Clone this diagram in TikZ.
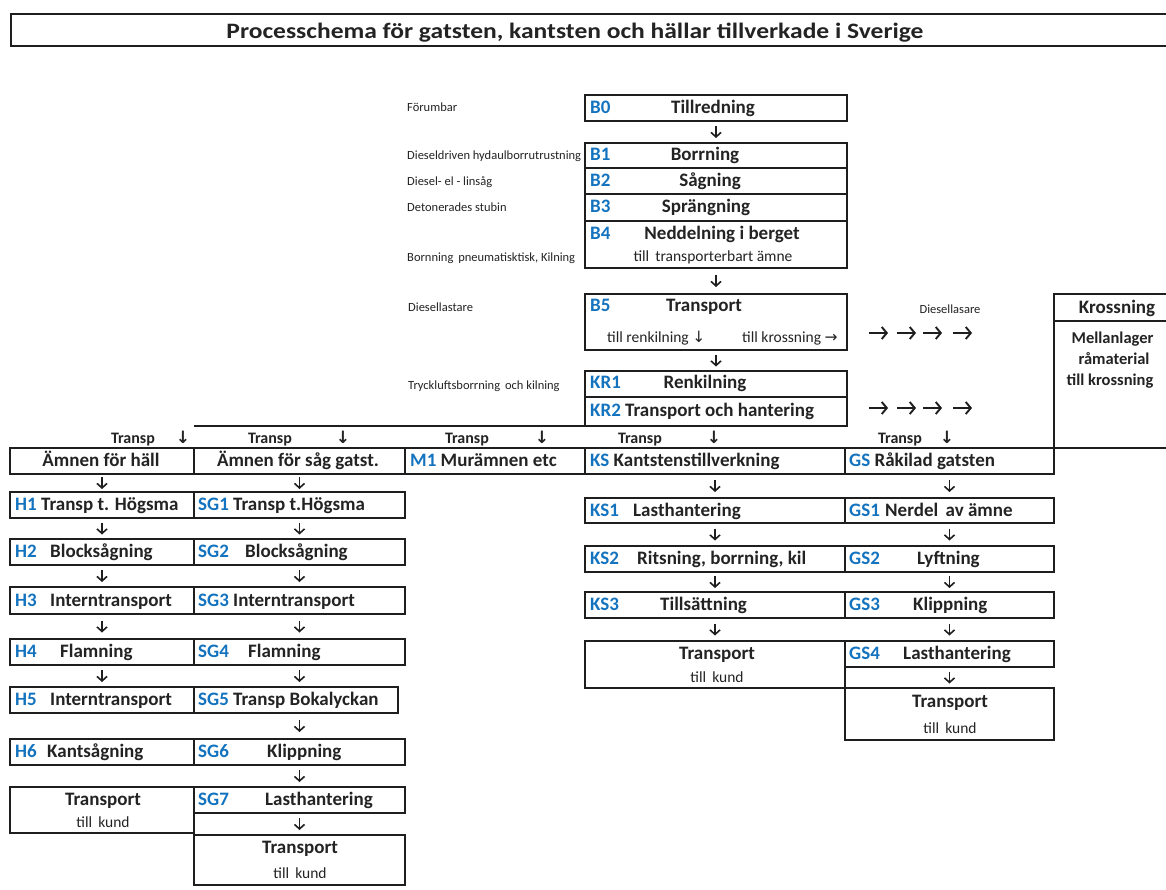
\documentclass[tikz,border=0pt]{standalone}
\usepackage{fontspec}
\setmainfont{Carlito}
\newfontfamily\arrfont{DejaVu Sans}
\usetikzlibrary{arrows.meta}
\definecolor{ln}{RGB}{30,30,30}
\definecolor{tx}{RGB}{35,35,35}
\definecolor{cblue}{RGB}{20,115,190}
\newcommand\cd[1]{\textcolor{cblue}{#1}}
\newcommand\dn{{\arrfont ↓}}
\newcommand\rt{{\arrfont →}}
\newcommand\bx[5]{%
  \pgfmathsetmacro\bw{#4-#2}\pgfmathsetmacro\bh{#5-#3}%
  \node[box,anchor=north west,minimum width=\bw pt,minimum height=\bh pt] (#1) at (#2,#3) {};}
\tikzset{
  box/.style={draw=ln, line width=2pt, outer sep=0pt, inner sep=0pt},
  big/.style={font=\fontsize{19}{22}\selectfont\bfseries, text=tx, inner sep=0pt},
  sub/.style={font=\fontsize{15.5}{18}\selectfont, text=tx, inner sep=0pt},
  sml/.style={font=\fontsize{12.5}{15}\selectfont, text=tx, inner sep=0pt},
  trp/.style={font=\fontsize{16}{19}\selectfont\bfseries, text=tx, inner sep=0pt},
  krs/.style={font=\fontsize{16.5}{19}\selectfont\bfseries, text=tx, inner sep=0pt},
  ttl/.style={font=\fontsize{22}{25}\selectfont\bfseries, text=tx, inner sep=0pt},
  dar/.style={font=\fontsize{17}{20}\selectfont\arrfont\bfseries, text=tx, inner sep=0pt},
  garr/.style={-{Straight Barb[length=5pt,width=12pt]}, line width=1.9pt, draw=ln},
  flow/.style={-{Straight Barb[length=4.5pt,width=10pt]}, line width=1.6pt, draw=ln, shorten <=#1, shorten >=#1},
  flow/.default=5pt,
  ln2/.style={draw=ln, line width=2pt}
}
\begin{document}
\begin{tikzpicture}[x=1pt,y=-1pt]
\useasboundingbox (0,0) rectangle (1166,890);
\fill[white] (0,0) rectangle (1166,890);
\clip (0,0) rectangle (1166,890);

% title
\node[draw=ln, line width=1.6pt, outer sep=0pt, inner sep=0pt, anchor=north west, minimum width=1180pt, minimum height=32pt] (title) at (11,14) {};
\node[ttl, anchor=base] (ttext) at (575,38.5) {\scalebox{1.16}[1]{Processchema för gatsten, kantsten och hällar tillverkade i Sverige}};

% B column
\bx{B0}{585}{95}{847}{121}
\bx{B1}{585}{143}{847}{168}
\bx{B2}{585}{168}{847}{194}
\bx{B3}{585}{194}{847}{221}
\bx{B4}{585}{221}{847}{268}
\bx{B5}{585}{294}{847}{350}
\bx{KR1}{585}{371}{847}{397}
\bx{KR2}{585}{397}{847}{426}
\coordinate (lineL) at (194,426);
\draw[ln2] (lineL) -- (KR2.south west);

\node[big,anchor=base west] (cB0) at (590,113.5) {\cd{B0}};
\node[big,anchor=base] (tB0) at (713,113.5) {Tillredning};
\node[big,anchor=base west] (cB1) at (590,161) {\cd{B1}};
\node[big,anchor=base] (tB1) at (705,161) {Borrning};
\node[big,anchor=base west] (cB2) at (590,186.5) {\cd{B2}};
\node[big,anchor=base] (tB2) at (710,186.5) {Sågning};
\node[big,anchor=base west] (cB3) at (590,213) {\cd{B3}};
\node[big,anchor=base] (tB3) at (706,213) {Sprängning};
\node[big,anchor=base west] (cB4) at (590,240) {\cd{B4}};
\node[big,anchor=base] (tB4) at (722,240) {Neddelning i berget};
\node[sub,anchor=base] (sB4) at (713,262) {till\, transporterbart ämne};
\node[big,anchor=base west] (cB5) at (590,311.5) {\cd{B5}};
\node[big,anchor=base] (tB5) at (704,311.5) {Transport};
\node[sub,anchor=base west] (sB5a) at (607,342) {till renkilning \dn};
\node[sub,anchor=base west] (sB5b) at (742,342) {till krossning \rt};
\node[big,anchor=base west] (cKR1) at (590,388.5) {\cd{KR1}};
\node[big,anchor=base] (tKR1) at (705,388.5) {Renkilning};
\node[big,anchor=base west] (tKR2) at (590,416.5) {\cd{KR2} Transport och hantering};

% left small labels
\node[sml,anchor=base west] (l0) at (407,112) {Förumbar};
\node[sml,anchor=base west] (l1) at (407,160) {Dieseldriven hydaulborrutrustning};
\node[sml,anchor=base west] (l2) at (407,186) {Diesel- el - linsåg};
\node[sml,anchor=base west] (l3) at (407,211.5) {Detonerades stubin};
\node[sml,anchor=base west] (l4) at (407,261.5) {Bornning\, pneumatisktisk, Kilning};
\node[sml,anchor=base west] (l5) at (408,311.5) {Diesellastare};
\node[sml,anchor=base west] (l6) at (408,389) {Tryckluftsborrning\, och kilning};

% right side
\node[sml,anchor=base] (l7) at (950,313) {Diesellasare};
\foreach \i/\x in {1/869,2/897,3/923,4/953}{
  \coordinate (ra\i s) at (\x,333);
  \coordinate (ra\i e) at (\x+19,333);
  \draw[garr] (ra\i s) -- (ra\i e);
  \coordinate (rb\i s) at (\x,408);
  \coordinate (rb\i e) at (\x+19,408);
  \draw[garr] (rb\i s) -- (rb\i e);
}
\bx{krH}{1054}{294}{1190}{321}
\bx{krB}{1054}{321}{1190}{448}
\node[big,anchor=base] (tkr) at (1117,313.5) {Krossning};
\node[krs,anchor=base] (tkr1) at (1112.5,343) {Mellanlager};
\node[krs,anchor=base] (tkr2) at (1114,364) {råmaterial};
\node[krs,anchor=base] (tkr3) at (1110,385) {till krossning};

% Transp row
\node[trp,anchor=base] (tp1) at (133,443) {Transp};
\node[dar,anchor=base] (tpa1) at (183,443.5) {↓};
\node[trp,anchor=base] (tp2) at (270,443) {Transp};
\node[dar,anchor=base] (tpa2) at (343,443.5) {↓};
\node[trp,anchor=base] (tp3) at (467,443) {Transp};
\node[dar,anchor=base] (tpa3) at (542,443.5) {↓};
\node[trp,anchor=base] (tp4) at (640,443) {Transp};
\node[dar,anchor=base] (tpa4) at (714,443.5) {↓};
\node[trp,anchor=base] (tp5) at (900,443) {Transp};
\node[dar,anchor=base] (tpa5) at (947,443.5) {↓};

% main row
\bx{AH}{10}{448}{194}{474}
\bx{ASG}{194}{448}{405}{474}
\bx{M1}{405}{448}{585}{474}
\bx{KS}{585}{448}{845}{474}
\bx{GS}{845}{448}{1054}{474}
\node[big,anchor=base] (tAH) at (101,466.5) {Ämnen för häll};
\node[big,anchor=base] (tASG) at (298,466.5) {Ämnen för såg gatst.};
\node[big,anchor=base west] (tM1) at (410,466.5) {\cd{M1} Murämnen etc};
\node[big,anchor=base west] (tKS) at (590,466.5) {\cd{KS} Kantstenstillverkning};
\node[big,anchor=base west] (tGS) at (849,466.5) {\cd{GS} Råkilad gatsten};

% H column
\bx{H1}{10}{492}{194}{518}
\bx{H2}{10}{539}{194}{565}
\bx{H3}{10}{587}{194}{614}
\bx{H4}{10}{639}{194}{665}
\bx{H5}{10}{687}{194}{713}
\bx{H6}{10}{739}{194}{765}
\bx{HT}{10}{787}{194}{833}
\node[big,anchor=base west] (tH1) at (15,510.5) {\cd{H1} Transp t. Högsma};
\node[big,anchor=base west] (cH2) at (15,557.5) {\cd{H2}};
\node[big,anchor=base west] (tH2) at (50,557.5) {Blocksågning};
\node[big,anchor=base west] (cH3) at (15,606) {\cd{H3}};
\node[big,anchor=base west] (tH3) at (50,606) {Interntransport};
\node[big,anchor=base west] (cH4) at (15,657.5) {\cd{H4}};
\node[big,anchor=base west] (tH4) at (60,657.5) {Flamning};
\node[big,anchor=base west] (cH5) at (15,705.5) {\cd{H5}};
\node[big,anchor=base west] (tH5) at (50,705.5) {Interntransport};
\node[big,anchor=base west] (cH6) at (15,757.5) {\cd{H6}};
\node[big,anchor=base west] (tH6) at (47,757.5) {Kantsågning};
\node[big,anchor=base] (tHT) at (103,805) {Transport};
\node[sub,anchor=base] (sHT) at (103,827) {till\, kund};

% SG column
\bx{SG1}{194}{492}{405}{518}
\bx{SG2}{194}{539}{405}{565}
\bx{SG3}{194}{587}{405}{614}
\bx{SG4}{194}{639}{405}{665}
\bx{SG5}{194}{687}{398}{713}
\bx{SG6}{194}{739}{405}{765}
\bx{SG7}{194}{787}{405}{813}
\bx{SGT}{194}{835}{405}{885}
\node[big,anchor=base west] (tSG1) at (198,510.5) {\cd{SG1} Transp t.Högsma};
\node[big,anchor=base west] (cSG2) at (198,557.5) {\cd{SG2}};
\node[big,anchor=base west] (tSG2) at (245,557.5) {Blocksågning};
\node[big,anchor=base west] (cSG3) at (198,606) {\cd{SG3}};
\node[big,anchor=base west] (tSG3) at (233,606) {Interntransport};
\node[big,anchor=base west] (cSG4) at (198,657.5) {\cd{SG4}};
\node[big,anchor=base west] (tSG4) at (248,657.5) {Flamning};
\node[big,anchor=base west] (tSG5) at (198,705.5) {\cd{SG5} Transp Bokalyckan};
\node[big,anchor=base west] (cSG6) at (198,757.5) {\cd{SG6}};
\node[big,anchor=base west] (tSG6) at (267,757.5) {Klippning};
\node[big,anchor=base west] (cSG7) at (198,805.5) {\cd{SG7}};
\node[big,anchor=base west] (tSG7) at (265,805.5) {Lasthantering};
\node[big,anchor=base] (tSGT) at (300,853) {Transport};
\node[sub,anchor=base] (sSGT) at (300,878) {till\, kund};

% KS column
\bx{KS1}{585}{498}{845}{523}
\bx{KS2}{585}{546}{845}{572}
\bx{KS3}{585}{592}{845}{618}
\bx{KST}{585}{641}{845}{688}
\node[big,anchor=base west] (cKS1) at (590,516) {\cd{KS1}};
\node[big,anchor=base west] (tKS1) at (633,516) {Lasthantering};
\node[big,anchor=base west] (cKS2) at (590,564.5) {\cd{KS2}};
\node[big,anchor=base west] (tKS2) at (637,564.5) {Ritsning, borrning, kil};
\node[big,anchor=base west] (cKS3) at (590,610.5) {\cd{KS3}};
\node[big,anchor=base west] (tKS3) at (660,610.5) {Tillsättning};
\node[big,anchor=base] (tKST) at (717,659) {Transport};
\node[sub,anchor=base] (sKST) at (717,682) {till\, kund};

% GS column
\bx{GS1}{845}{498}{1054}{523}
\bx{GS2}{845}{546}{1054}{572}
\bx{GS3}{845}{592}{1054}{618}
\bx{GS4}{845}{641}{1054}{667}
\bx{GST}{845}{688}{1054}{740}
\node[big,anchor=base west] (cGS1) at (849,516) {\cd{GS1}};
\node[big,anchor=base west] (tGS1) at (885,516) {Nerdel\, av ämne};
\node[big,anchor=base west] (cGS2) at (849,564.5) {\cd{GS2}};
\node[big,anchor=base west] (tGS2) at (917,564.5) {Lyftning};
\node[big,anchor=base west] (cGS3) at (849,610.5) {\cd{GS3}};
\node[big,anchor=base west] (tGS3) at (913,610.5) {Klippning};
\node[big,anchor=base west] (cGS4) at (849,659.5) {\cd{GS4}};
\node[big,anchor=base west] (tGS4) at (903,659.5) {Lasthantering};
\node[big,anchor=base] (tGST) at (950,707) {Transport};
\node[sub,anchor=base] (sGST) at (950,733) {till\, kund};

% connectors
\draw[flow=5pt] (B0) -- (B1);
\draw[flow=7pt] (B4) -- (B5);
\draw[flow=4.5pt] (B5) -- (KR1);
\draw[flow=3pt] (AH) -- (H1);
\draw[flow=4.5pt] (H1) -- (H2);
\draw[flow=5pt] (H2) -- (H3);
\draw[flow=6.5pt] (H3) -- (H4);
\draw[flow=5pt] (H4) -- (H5);
\draw[flow=3pt] (ASG) -- (SG1);
\draw[flow=4.5pt] (SG1) -- (SG2);
\draw[flow=5pt] (SG2) -- (SG3);
\draw[flow=6.5pt] (SG3) -- (SG4);
\draw[flow=5pt] (SG4.south) -- (SG4.south |- SG5.north);
\draw[flow=7pt] (SG6.north |- SG5.south) -- (SG6.north);
\draw[flow=5pt] (SG6) -- (SG7);
\draw[flow=5pt] (SG7) -- (SGT);
\draw[flow=6pt] (KS) -- (KS1);
\draw[flow=5.5pt] (KS1) -- (KS2);
\draw[flow=4pt] (KS2) -- (KS3);
\draw[flow=5.5pt] (KS3) -- (KST);
\draw[flow=6pt] (GS) -- (GS1);
\draw[flow=5.5pt] (GS1) -- (GS2);
\draw[flow=4pt] (GS2) -- (GS3);
\draw[flow=5.5pt] (GS3) -- (GS4);
\draw[flow=4.5pt] (GS4) -- (GST);
\end{tikzpicture}
\end{document}
